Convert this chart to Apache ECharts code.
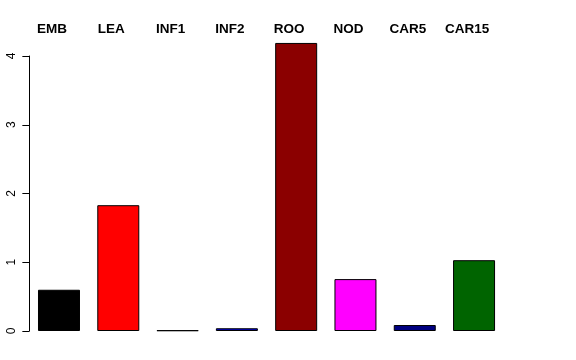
<!DOCTYPE html>
<html><head><meta charset="utf-8">
<script src="https://cdn.jsdelivr.net/npm/echarts@6/dist/echarts.min.js"></script>
<style>html,body{margin:0;padding:0;background:#fff}#c{width:576px;height:360px}</style>
</head><body><div id="c"></div>
<script>
const categories = ['EMB','LEA','INF1','INF2','ROO','NOD','CAR5','CAR15'];
const values = [0.60, 1.83, 0.01, 0.04, 4.19, 0.755, 0.087, 1.03];
const barColors = ['#000000','#FF0000','#006400','#0000CD','#8B0000','#FF00FF','#000080','#006400'];
const yTicks = [0, 1, 2, 3, 4];

const chart = echarts.init(document.getElementById('c'));
const left = 29.35, right = 72.3, bottom = 29;
const pxPerUnit = 68.75;
const barMax = 4.3;
chart.setOption({
  animation: false,
  grid: [
    {left: left, right: right, bottom: bottom, top: 360 - bottom - barMax * pxPerUnit},
    {left: left, right: right, bottom: bottom, top: 360 - bottom - 4 * pxPerUnit}
  ],
  xAxis: [
    {gridIndex: 0, type: 'category', data: categories, position: 'top',
     axisLine: {show: false}, axisTick: {show: false},
     axisLabel: {interval: 0, hideOverlap: false, margin: -1, fontFamily: 'Liberation Sans, Arial', fontWeight: 'bold', fontSize: 13.5, color: '#000', padding: [0, 14, 0, 0]}},
    {gridIndex: 1, type: 'category', data: categories, show: false}
  ],
  yAxis: [
    {gridIndex: 0, type: 'value', min: 0, max: barMax, show: false},
    {gridIndex: 1, type: 'value', min: yTicks[0], max: yTicks[yTicks.length - 1], interval: 1,
     splitLine: {show: false},
     axisLine: {show: true, lineStyle: {color: '#000', width: 1}},
     axisTick: {show: true, length: 7, lineStyle: {color: '#000'}},
     axisLabel: {rotate: 90, margin: 12, fontFamily: 'Liberation Sans, Arial', fontSize: 12, color: '#000'}}
  ],
  series: [{
    type: 'bar', xAxisIndex: 0, yAxisIndex: 0,
    barWidth: 42,
    data: values.map((v, i) => ({value: v, itemStyle: {color: barColors[i]}})),
    itemStyle: {borderColor: '#000', borderWidth: 1}
  }]
});
</script></body></html>
